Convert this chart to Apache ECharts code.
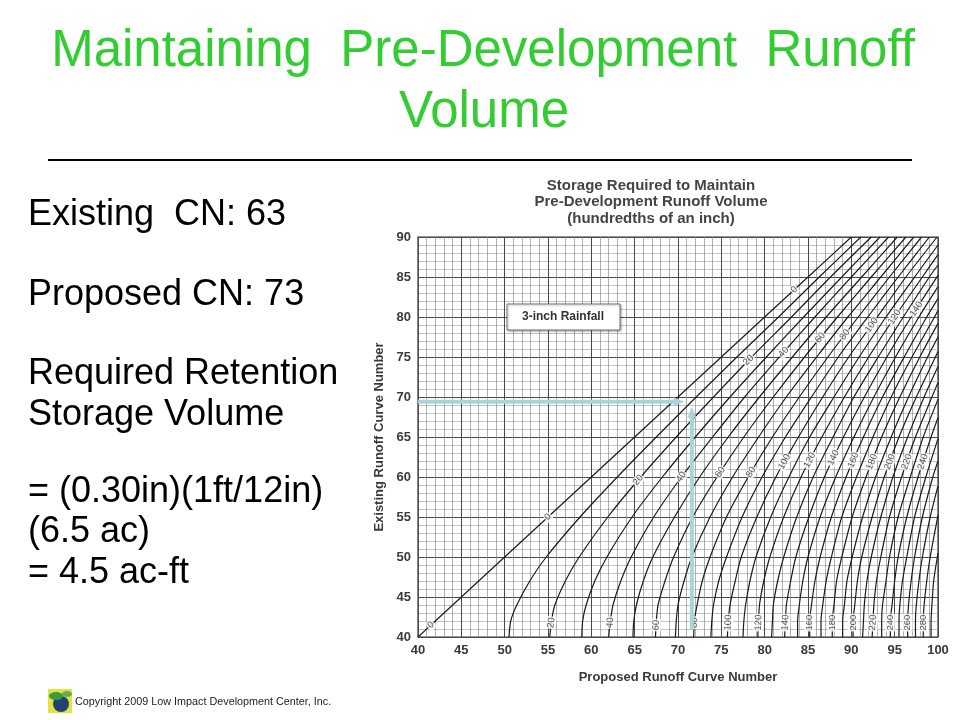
<!DOCTYPE html>
<html><head><meta charset="utf-8">
<script src="https://cdn.jsdelivr.net/npm/echarts@6/dist/echarts.min.js"></script>
<style>html,body{margin:0;padding:0;background:#fff}#c{width:960px;height:720px}</style>
</head><body><div id="c"></div>
<script>
// ---- data (x = Proposed CN, y = Existing CN) ----
const curve0   = [[40,40],[42,42],[44,44],[47,47],[50,50],[55,55],[60,60],[65,65],[70,70],[75,75],[80,80],[85,85],[90,90]];
const curve10  = [[50.5,40],[50.7,42],[51.4,44],[52.9,47],[54.8,50],[58.7,55],[63.0,60],[67.5,65],[72.1,70],[76.8,75],[81.6,80],[86.3,85],[91.1,90]];
const curve20  = [[55.2,40],[55.4,42],[55.8,44],[57.0,47],[58.6,50],[61.9,55],[65.7,60],[69.8,65],[74.1,70],[78.5,75],[83.1,80],[87.6,85],[92.3,90]];
const curve30  = [[58.9,40],[59.0,42],[59.4,44],[60.4,47],[61.8,50],[64.7,55],[68.2,60],[72.0,65],[76.0,70],[80.2,75],[84.5,80],[88.9,85],[93.3,90]];
const curve40  = [[62.0,40],[62.2,42],[62.5,44],[63.4,47],[64.6,50],[67.2,55],[70.4,60],[74.0,65],[77.7,70],[81.7,75],[85.8,80],[90.0,85],[94.3,90]];
const curve50  = [[64.8,40],[64.9,42],[65.2,44],[66.0,47],[67.1,50],[69.6,55],[72.5,60],[75.8,65],[79.4,70],[83.2,75],[87.1,80],[91.2,85],[95.3,90]];
const curve60  = [[67.4,40],[67.5,42],[67.7,44],[68.5,47],[69.5,50],[71.7,55],[74.5,60],[77.6,65],[81.0,70],[84.6,75],[88.4,80],[92.3,85],[96.3,90]];
const curve70  = [[69.7,40],[69.8,42],[70.0,44],[70.7,47],[71.6,50],[73.7,55],[76.3,60],[79.3,65],[82.5,70],[86.0,75],[89.6,80],[93.4,85],[97.2,90]];
const curve80  = [[71.8,40],[71.9,42],[72.2,44],[72.8,47],[73.7,50],[75.6,55],[78.1,60],[80.9,65],[84.0,70],[87.3,75],[90.8,80],[94.4,85],[98.1,90]];
const curve90  = [[73.8,40],[73.9,42],[74.1,44],[74.7,47],[75.6,50],[77.4,55],[79.7,60],[82.4,65],[85.4,70],[88.5,75],[91.9,80],[95.4,85],[99.0,90]];
const curve100 = [[75.7,40],[75.8,42],[76.0,44],[76.6,47],[77.3,50],[79.1,55],[81.3,60],[83.9,65],[86.7,70],[89.7,75],[93.0,80],[96.3,85],[99.9,90]];
const curve110 = [[77.5,40],[77.6,42],[77.8,44],[78.3,47],[79.0,50],[80.7,55],[82.8,60],[85.2,65],[88.0,70],[90.9,75],[94.0,80],[97.3,85],[100,89.0]];
const curve120 = [[79.2,40],[79.3,42],[79.4,44],[79.9,47],[80.6,50],[82.2,55],[84.2,60],[86.6,65],[89.2,70],[92.0,75],[95.0,80],[98.2,85],[100,87.8]];
const curve130 = [[80.8,40],[80.9,42],[81.0,44],[81.5,47],[82.2,50],[83.7,55],[85.6,60],[87.9,65],[90.3,70],[93.1,75],[96.0,80],[99.0,85],[100,86.5]];
const curve140 = [[82.3,40],[82.4,42],[82.5,44],[83.0,47],[83.6,50],[85.1,55],[86.9,60],[89.1,65],[91.5,70],[94.1,75],[96.9,80],[100,85.2]];
const curve150 = [[83.8,40],[83.8,42],[84.0,44],[84.4,47],[85.0,50],[86.4,55],[88.2,60],[90.3,65],[92.6,70],[95.1,75],[97.8,80],[100,83.8]];
const curve160 = [[85.2,40],[85.2,42],[85.4,44],[85.8,47],[86.4,50],[87.7,55],[89.4,60],[91.4,65],[93.6,70],[96.1,75],[98.7,80],[100,82.3]];
const curve170 = [[86.5,40],[86.5,42],[86.7,44],[87.1,47],[87.7,50],[88.9,55],[90.6,60],[92.5,65],[94.6,70],[97.0,75],[99.6,80],[100,80.8]];
const curve180 = [[87.8,40],[87.8,42],[88.0,44],[88.3,47],[88.9,50],[90.1,55],[91.7,60],[93.5,65],[95.6,70],[97.9,75],[100,79.2]];
const curve190 = [[89.0,40],[89.0,42],[89.2,44],[89.5,47],[90.1,50],[91.3,55],[92.8,60],[94.6,65],[96.6,70],[98.8,75],[100,77.5]];
const curve200 = [[90.2,40],[90.2,42],[90.4,44],[90.7,47],[91.2,50],[92.4,55],[93.8,60],[95.5,65],[97.5,70],[99.7,75],[100,75.7]];
const curve210 = [[91.3,40],[91.4,42],[91.5,44],[91.8,47],[92.3,50],[93.4,55],[94.8,60],[96.5,65],[98.4,70],[100,73.8]];
const curve220 = [[92.4,40],[92.5,42],[92.6,44],[92.9,47],[93.4,50],[94.4,55],[95.8,60],[97.4,65],[99.3,70],[100,71.8]];
const curve230 = [[93.5,40],[93.5,42],[93.6,44],[94.0,47],[94.4,50],[95.4,55],[96.8,60],[98.3,65],[100,69.7]];
const curve240 = [[94.5,40],[94.5,42],[94.7,44],[95.0,47],[95.4,50],[96.4,55],[97.7,60],[99.2,65],[100,67.4]];
const curve250 = [[95.5,40],[95.5,42],[95.6,44],[95.9,47],[96.4,50],[97.3,55],[98.6,60],[100,64.8]];
const curve260 = [[96.5,40],[96.5,42],[96.6,44],[96.9,47],[97.3,50],[98.2,55],[99.4,60],[100,62.0]];
const curve270 = [[97.4,40],[97.4,42],[97.5,44],[97.8,47],[98.2,50],[99.1,55],[100,58.9]];
const curve280 = [[98.3,40],[98.3,42],[98.4,44],[98.7,47],[99.1,50],[100,55.2]];
const curve290 = [[99.2,40],[99.2,42],[99.3,44],[99.5,47],[100,50.5]];

const storageValues = [0,10,20,30,40,50,60,70,80,90,100,110,120,130,140,150,160,170,180,190,200,210,220,230,240,250,260,270,280,290];
const curves = [curve0,curve10,curve20,curve30,curve40,curve50,curve60,curve70,curve80,curve90,curve100,curve110,curve120,curve130,curve140,curve150,curve160,curve170,curve180,curve190,curve200,curve210,curve220,curve230,curve240,curve250,curve260,curve270,curve280,curve290];

// curve labels: [storage value, Existing CN where the label sits]
const bottomLabels = [[0,41.5],[20,41.8],[40,41.8],[60,41.5],[80,41.8],[100,41.8],[120,41.8],[140,41.8],[160,41.8],[180,41.8],[200,41.8],[220,41.8],[240,41.8],[260,41.8],[280,41.8]];
const middleLabels = [[0,55],[20,59.6],[40,60],[60,60.6],[80,60.6],[100,61.9],[120,62.1],[140,62.4],[160,62.1],[180,61.9],[200,61.9],[220,61.9],[240,61.9]];
const upperLabels  = [[0,83.4],[20,74.6],[40,75.6],[60,77.4],[80,77.8],[100,79],[120,80],[140,81]];

// light-blue reading guides
const guideExisting = [[40,69.4],[70.1,69.4]];
const guideProposed = [[71.6,40.9],[71.6,68.1]];

// ---- chart ----
const FONT = '"Liberation Sans", Arial, sans-serif';
const chart = echarts.init(document.getElementById('c'), null, {renderer:'canvas'});

const curveSeries = curves.map((c, i) => ({
  type:'line', name:'S' + storageValues[i], data:c, showSymbol:false, symbol:'none',
  smooth:0.25, silent:true, z:3,
  lineStyle:{color:'#1a1a1a', width:1.2}
}));

const baseOption = {
  animation:false,
  backgroundColor:'#ffffff',
  grid:{left:418, right:22, top:237, bottom:83, show:true, borderColor:'#333', borderWidth:1.2},
  xAxis:{type:'value', min:40, max:100, interval:5,
    axisLine:{show:false}, axisTick:{show:false},
    axisLabel:{color:'#3a3a3a', fontWeight:'bold', fontSize:13, fontFamily:FONT, margin:7},
    splitLine:{show:true, lineStyle:{color:'#4a4a4a', width:1}},
    minorTick:{show:false, splitNumber:5},
    minorSplitLine:{show:true, lineStyle:{color:'#8c8c8c', width:0.7}},
    name:'Proposed Runoff Curve Number', nameLocation:'middle', nameGap:34,
    nameTextStyle:{color:'#3a3a3a', fontWeight:'bold', fontSize:13, fontFamily:FONT}},
  yAxis:{type:'value', min:40, max:90, interval:5,
    axisLine:{show:false}, axisTick:{show:false},
    axisLabel:{color:'#3a3a3a', fontWeight:'bold', fontSize:13, fontFamily:FONT, margin:7},
    splitLine:{show:true, lineStyle:{color:'#4a4a4a', width:1}},
    minorTick:{show:false, splitNumber:5},
    minorSplitLine:{show:true, lineStyle:{color:'#a8a8a8', width:0.7}},
    name:'Existing Runoff Curve Number', nameLocation:'middle', nameGap:31,
    nameTextStyle:{color:'#3a3a3a', fontWeight:'bold', fontSize:13, fontFamily:FONT}},
  series:curveSeries
};
chart.setOption(baseOption);

// place labels along the curves (position and slope taken from the curve arrays)
function labelItem(storage, yv){
  const c = curves[storageValues.indexOf(storage)];
  let i = 0;
  while (i < c.length - 2 && c[i+1][1] < yv) i++;
  const a = c[i], b = c[i+1];
  const t = (yv - a[1]) / (b[1] - a[1]);
  const x = a[0] + t * (b[0] - a[0]);
  const pa = chart.convertToPixel({gridIndex:0}, a);
  const pb = chart.convertToPixel({gridIndex:0}, b);
  const ang = Math.atan2(-(pb[1] - pa[1]), pb[0] - pa[0]) * 180 / Math.PI;
  return {value:[x, yv], label:{show:true, formatter:String(storage), rotate:ang}};
}
const labelData = [].concat(
  bottomLabels.map(d => labelItem(d[0], d[1])),
  middleLabels.map(d => labelItem(d[0], d[1])),
  upperLabels.map(d => labelItem(d[0], d[1]))
);

const blue = '#a7d6da';
chart.setOption({
  series: curveSeries.concat([
    {type:'scatter', name:'labels', data:labelData, symbolSize:0, silent:true, z:5,
      label:{show:true, position:'inside', color:'#2a2a2a', fontSize:9.5, fontFamily:FONT,
        backgroundColor:'#ffffff', padding:[0,1]}},
    {type:'line', name:'guideExisting', z:6, silent:true,
      data:[{value:guideExisting[0], symbol:'none'},
            {value:guideExisting[1], symbol:'triangle', symbolSize:[9,11], symbolRotate:-90}],
      showSymbol:true, showAllSymbol:true,
      lineStyle:{color:blue, width:4}, itemStyle:{color:blue}},
    {type:'line', name:'guideProposed', z:6, silent:true,
      data:[{value:guideProposed[0], symbol:'none'},
            {value:guideProposed[1], symbol:'triangle', symbolSize:[9,11]}],
      showSymbol:true, showAllSymbol:true,
      lineStyle:{color:blue, width:4}, itemStyle:{color:blue}}
  ]),
  graphic:[
    {type:'text', x:483, y:52, style:{text:'Maintaining  Pre-Development  Runoff', fill:'#33cc33', font:'51px ' + FONT, align:'center', verticalAlign:'middle'}},
    {type:'text', x:484, y:113, style:{text:'Volume', fill:'#33cc33', font:'51px ' + FONT, align:'center', verticalAlign:'middle'}},
    {type:'line', shape:{x1:48, y1:160, x2:912, y2:160}, style:{stroke:'#000', lineWidth:2}},
    {type:'text', x:28, y:215, style:{text:'Existing  CN: 63', fill:'#000', font:'36px ' + FONT, verticalAlign:'middle'}},
    {type:'text', x:28, y:295, style:{text:'Proposed CN: 73', fill:'#000', font:'36px ' + FONT, verticalAlign:'middle'}},
    {type:'text', x:28, y:374, style:{text:'Required Retention', fill:'#000', font:'36px ' + FONT, verticalAlign:'middle'}},
    {type:'text', x:28, y:415, style:{text:'Storage Volume', fill:'#000', font:'36px ' + FONT, verticalAlign:'middle'}},
    {type:'text', x:28, y:492, style:{text:'= (0.30in)(1ft/12in)', fill:'#000', font:'36px ' + FONT, verticalAlign:'middle'}},
    {type:'text', x:28, y:532, style:{text:'(6.5 ac)', fill:'#000', font:'36px ' + FONT, verticalAlign:'middle'}},
    {type:'text', x:28, y:573, style:{text:'= 4.5 ac-ft', fill:'#000', font:'36px ' + FONT, verticalAlign:'middle'}},
    {type:'text', x:651, y:186, style:{text:'Storage Required to Maintain', fill:'#444', font:'bold 15px ' + FONT, align:'center', verticalAlign:'middle'}},
    {type:'text', x:651, y:202, style:{text:'Pre-Development Runoff Volume', fill:'#444', font:'bold 15px ' + FONT, align:'center', verticalAlign:'middle'}},
    {type:'text', x:651, y:219, style:{text:'(hundredths of an inch)', fill:'#444', font:'bold 15px ' + FONT, align:'center', verticalAlign:'middle'}},
    {type:'rect', z:10, shape:{x:507, y:304, width:113, height:26}, style:{fill:'#fff', stroke:'#777', lineWidth:1, shadowBlur:2, shadowColor:'rgba(0,0,0,0.3)', shadowOffsetX:1, shadowOffsetY:1}},
    {type:'text', z:11, x:563, y:317, style:{text:'3-inch Rainfall', fill:'#333', font:'bold 12px ' + FONT, align:'center', verticalAlign:'middle'}},
    {type:'rect', shape:{x:48, y:689, width:24, height:24}, style:{fill:'#e4e04a'}},
    {type:'circle', shape:{cx:61, cy:704, r:8}, style:{fill:'#23426e'}},
    {type:'ellipse', shape:{cx:56, cy:696, rx:7, ry:4}, style:{fill:'#3f9a3a'}},
    {type:'ellipse', shape:{cx:67, cy:694, rx:5, ry:3}, style:{fill:'#5fb14a'}},
    {type:'text', x:75, y:702, style:{text:'Copyright 2009 Low Impact Development Center, Inc.', fill:'#222', font:'10.8px ' + FONT, verticalAlign:'middle'}}
  ]
});
</script></body></html>
